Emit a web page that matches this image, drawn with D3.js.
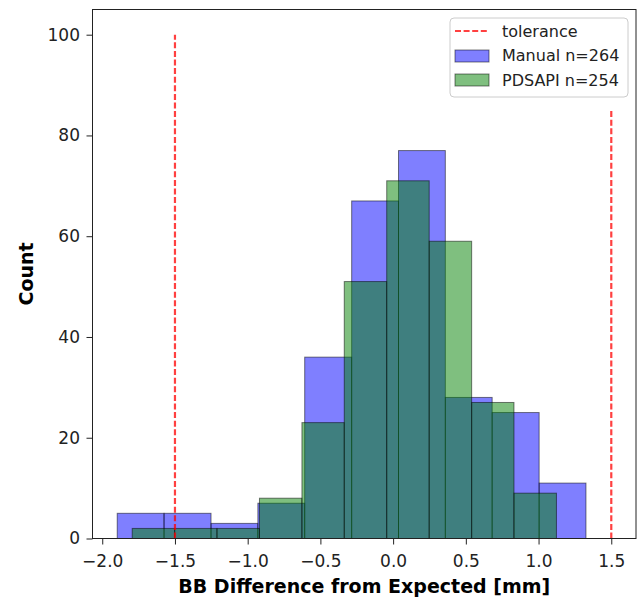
<!DOCTYPE html>
<html>
<head>
<meta charset="utf-8">
<script src="https://cdn.jsdelivr.net/npm/d3@7"></script>
<style>
  body { margin: 0; background: white; }
  text { font-family: "DejaVu Sans", sans-serif; }
</style>
</head>
<body>
<div id="chart"></div>
<script>
// bin edges and counts
var manualEdges = [-1.897, -1.575, -1.252, -0.930, -0.608, -0.285, 0.037, 0.359, 0.681, 1.004, 1.326];
var manualCounts = [5, 5, 3, 7, 36, 67, 77, 28, 25, 11];
var pdsapiEdges = [-1.794, -1.502, -1.211, -0.919, -0.627, -0.336, -0.044, 0.248, 0.540, 0.831, 1.123];
var pdsapiCounts = [2, 2, 2, 8, 23, 51, 71, 59, 27, 9];
var tolerance = [{x: -1.5, top: 100}, {x: 1.5, top: 85}];
var xTicks = [-2.0, -1.5, -1.0, -0.5, 0.0, 0.5, 1.0, 1.5];
var yTicks = [0, 20, 40, 60, 80, 100];
var legendLabels = ["tolerance", "Manual n=264", "PDSAPI n=254"];

function toBins(edges, counts) {
    return counts.map((c, i) => ({x0: edges[i], x1: edges[i + 1], count: c}));
}

var margin = {top: 9.5, right: 5, bottom: 61.5, left: 92.5},
    width = 641 - margin.left - margin.right,
    height = 600 - margin.top - margin.bottom;

var svg = d3.select("#chart").append("svg")
    .attr("width", 641)
    .attr("height", 600)
    .append("g")
    .attr("transform", `translate(${margin.left},${margin.top})`);

var xScale = d3.scaleLinear()
    .domain([-2.067, 1.670])
    .range([0, width]);

var yScale = d3.scaleLinear()
    .domain([0, 105])
    .range([height, 0]);

function drawHist(bins, color) {
    svg.append("g").selectAll("rect")
        .data(bins)
        .enter().append("rect")
        .attr("x", d => xScale(d.x0))
        .attr("y", d => yScale(d.count))
        .attr("width", d => xScale(d.x1) - xScale(d.x0))
        .attr("height", d => yScale(0) - yScale(d.count))
        .attr("fill", color)
        .attr("fill-opacity", 0.5)
        .attr("stroke", "black")
        .attr("stroke-opacity", 0.5)
        .attr("stroke-width", 1);
}

drawHist(toBins(manualEdges, manualCounts), "#0000ff");
drawHist(toBins(pdsapiEdges, pdsapiCounts), "#008000");

// tolerance lines
svg.selectAll(".tol")
    .data(tolerance)
    .enter().append("line")
    .attr("class", "tol")
    .attr("x1", d => xScale(d.x))
    .attr("x2", d => xScale(d.x))
    .attr("y1", yScale(0))
    .attr("y2", d => yScale(d.top))
    .attr("stroke", "red")
    .attr("stroke-opacity", 0.75)
    .attr("stroke-width", 2.2)
    .attr("stroke-dasharray", "6,2.6");

// axes
var xAxis = svg.append("g")
    .attr("transform", `translate(0,${height})`)
    .call(d3.axisBottom(xScale).tickValues(xTicks).tickSize(6).tickPadding(10.5)
        .tickFormat(d => d3.format(".1f")(d).replace("-", "\u2212")));
xAxis.select(".domain").remove();
xAxis.selectAll("text").style("font-size", "17px").style("fill", "#222");
xAxis.selectAll("line").attr("stroke", "#222");

var yAxis = svg.append("g")
    .call(d3.axisLeft(yScale).tickValues(yTicks).tickSize(6).tickPadding(6.5));
yAxis.select(".domain").remove();
yAxis.selectAll("text").style("font-size", "17px").style("fill", "#222");
yAxis.selectAll("line").attr("stroke", "#222");

svg.append("rect")
    .attr("width", width)
    .attr("height", height)
    .attr("fill", "none")
    .attr("stroke", "#222")
    .attr("stroke-width", 1);

svg.append("text")
    .attr("x", width / 2)
    .attr("y", height + 54)
    .attr("text-anchor", "middle")
    .style("font-size", "19px")
    .style("font-weight", "bold")
    .text("BB Difference from Expected [mm]");

svg.append("text")
    .attr("transform", `translate(${33 - margin.left},${height / 2}) rotate(-90)`)
    .attr("text-anchor", "middle")
    .style("font-size", "19px")
    .style("font-weight", "bold")
    .text("Count");

// legend
var legend = svg.append("g")
    .attr("transform", `translate(${450 - margin.left},${18 - margin.top})`);

legend.append("rect")
    .attr("width", 178)
    .attr("height", 79)
    .attr("rx", 4)
    .attr("fill", "white")
    .attr("fill-opacity", 0.8)
    .attr("stroke", "#cccccc");

legend.append("line")
    .attr("x1", 5).attr("x2", 39)
    .attr("y1", 13).attr("y2", 13)
    .attr("stroke", "red")
    .attr("stroke-opacity", 0.75)
    .attr("stroke-width", 2.2)
    .attr("stroke-dasharray", "6,2.6");

var patchColors = ["#0000ff", "#008000"];
legend.selectAll(".patch")
    .data(patchColors)
    .enter().append("rect")
    .attr("class", "patch")
    .attr("x", 5)
    .attr("y", (d, i) => 32 + i * 24)
    .attr("width", 34)
    .attr("height", 12)
    .attr("fill", d => d)
    .attr("fill-opacity", 0.5)
    .attr("stroke", "black")
    .attr("stroke-opacity", 0.5);

legend.selectAll(".ltext")
    .data(legendLabels)
    .enter().append("text")
    .attr("class", "ltext")
    .attr("x", 52)
    .attr("y", (d, i) => 13 + i * 24.5)
    .attr("dy", "0.35em")
    .style("font-size", "16px")
    .style("fill", "#222")
    .text(d => d);
</script>
</body>
</html>
